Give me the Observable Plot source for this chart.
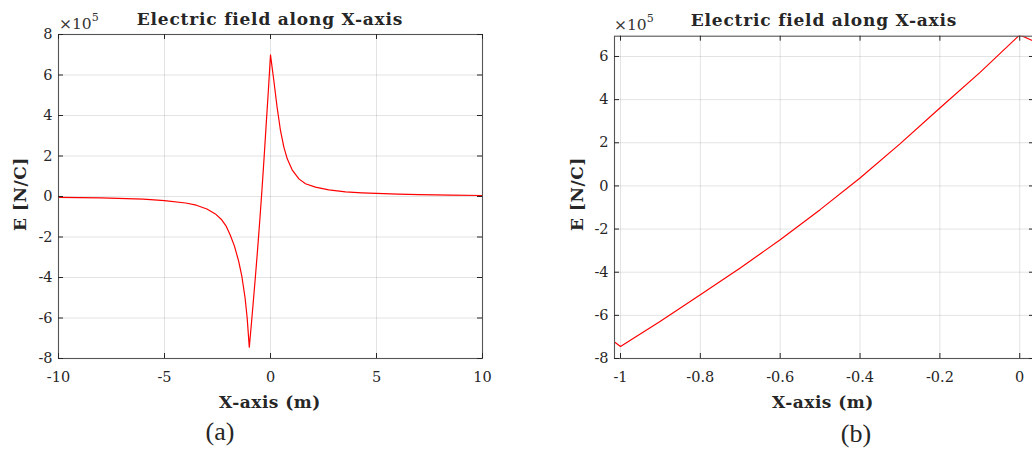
<!DOCTYPE html>
<html><head><meta charset="utf-8">
<script src="https://cdn.jsdelivr.net/npm/d3@7"></script>
<script src="https://cdn.jsdelivr.net/npm/@observablehq/plot@0.6"></script>
<style>
html,body{margin:0;padding:0;overflow:hidden;background:#fff}
body{width:1032px;height:450px;position:relative;font-family:"DejaVu Serif",serif;color:#262626}
.abs{position:absolute;transform:translate(-50%,-50%);white-space:nowrap;line-height:1}
.title{font-weight:bold;font-size:17px;letter-spacing:0.8px}
.xlab{font-weight:bold;font-size:17px;letter-spacing:0.5px}
.ylab{font-weight:bold;font-size:17px;letter-spacing:0.5px;transform:translate(-50%,-50%) rotate(-90deg)}
.exp{position:absolute;font-size:15.5px;white-space:nowrap;line-height:1;color:#333}
.exp sup{font-size:11px;vertical-align:8px}
.cap{font-size:26px;font-family:"Liberation Serif",serif}
.panel{position:absolute;top:0}
svg.panel, svg.panel text{font-family:"DejaVu Serif",serif !important;font-size:14.5px !important}
</style></head><body>
<script>
// Data: x in m, E in units of 1e5 N/C
const xVals = [-10, -8, -6, -5, -4, -3.5, -3, -2.6, -2.3, -2.1, -1.9, -1.7, -1.5, -1.35, -1.2, -1.1, -1.015, -1,
  -0.9, -0.8, -0.7, -0.6, -0.5, -0.4, -0.3, -0.2, -0.1, 0,
  0.03, 0.157, 0.31, 0.47, 0.63, 0.79, 1.02, 1.34, 1.65, 2.12, 2.75, 3.54, 4.32, 5, 6, 7, 8.5, 10];
const eVals = [-0.04, -0.07, -0.13, -0.2, -0.32, -0.43, -0.62, -0.86, -1.15, -1.45, -1.9, -2.45, -3.2, -3.95, -5.0, -6.0, -7.24, -7.44,
  -6.27, -5.05, -3.8, -2.5, -1.1, 0.37, 1.95, 3.61, 5.25, 7.0,
  6.75, 5.73, 4.42, 3.26, 2.44, 1.86, 1.32, 0.87, 0.63, 0.46, 0.33, 0.23, 0.18, 0.15, 0.12, 0.09, 0.07, 0.05];

const xTicksA = [-10, -5, 0, 5, 10];
const yTicksA = [-8, -6, -4, -2, 0, 2, 4, 6, 8];
const xTicksB = [-1, -0.8, -0.6, -0.4, -0.2, 0];
const yTicksB = [-8, -6, -4, -2, 0, 2, 4, 6];

const titleText = "Electric field along X-axis";
const xLabelText = "X-axis (m)";
const yLabelText = "E [N/C]";
const captions = ["(a)", "(b)"];

const data = xVals.map((x, i) => ({x, e: eVals[i]}));

function panel({left, width, height, mt, mb, ml, mr, xDomain, yDomain, xTicks, yTicks}) {
  const plotW = width - ml - mr, plotH = height - mt - mb, tl = 5;
  const fmt = d => String(d);
  const chart = Plot.plot({
    width, height, marginTop: mt, marginBottom: mb, marginLeft: ml, marginRight: mr,
    style: {fontFamily: "DejaVu Serif", fontSize: "14.5px", color: "#262626", background: "transparent"},
    x: {domain: xDomain},
    y: {domain: yDomain},
    marks: [
      Plot.gridX(xTicks, {stroke: "#000", strokeOpacity: 0.11}),
      Plot.gridY(yTicks, {stroke: "#000", strokeOpacity: 0.11}),
      Plot.line(data, {x: "x", y: "e", stroke: "#ff0000", strokeWidth: 1.2, clip: true}),
      Plot.frame({stroke: "#555", strokeWidth: 1.1}),
      Plot.tickX(xTicks, {x: d => d, insetTop: plotH - tl, stroke: "#262626"}),
      Plot.tickX(xTicks, {x: d => d, insetBottom: plotH - tl, stroke: "#262626"}),
      Plot.tickY(yTicks, {y: d => d, insetRight: plotW - tl, stroke: "#262626"}),
      Plot.tickY(yTicks, {y: d => d, insetLeft: plotW - tl, stroke: "#262626"}),
      Plot.axisX(xTicks, {tickSize: 0, tickPadding: 13, tickFormat: fmt, label: null}),
      Plot.axisY(yTicks, {tickSize: 0, tickPadding: 6, tickFormat: fmt, label: null})
    ]
  });
  chart.classList.add("panel");
  chart.style.left = left + "px";
  document.body.appendChild(chart);
}

panel({left: 0, width: 500, height: 400, mt: 34, mb: 42, ml: 58, mr: 18,
  xDomain: [-10, 10], yDomain: [-8, 8], xTicks: xTicksA, yTicks: yTicksA});
panel({left: 540, width: 500, height: 400, mt: 35.7, mb: 42, ml: 74, mr: 6,
  xDomain: [-1.015, 0.037], yDomain: [-8, 6.94], xTicks: xTicksB, yTicks: yTicksB});

function addText(cls, txt, x, y) {
  const d = document.createElement("div");
  d.className = "abs " + cls;
  d.textContent = txt;
  d.style.left = x + "px"; d.style.top = y + "px";
  document.body.appendChild(d);
}
function addExp(x, y) {
  const d = document.createElement("div");
  d.className = "exp";
  d.innerHTML = "&times;10<sup>5</sup>";
  d.style.left = x + "px"; d.style.top = y + "px";
  document.body.appendChild(d);
}
addText("title", titleText, 270, 19);
addText("title", titleText, 824, 20);
addText("xlab", xLabelText, 270, 402);
addText("xlab", xLabelText, 823, 402);
addText("ylab", yLabelText, 20, 194);
addText("ylab", yLabelText, 577, 194);
addText("cap", captions[0], 220, 432);
addText("cap", captions[1], 856, 434);
addExp(59, 12);
addExp(614, 13);
</script>
</body></html>
